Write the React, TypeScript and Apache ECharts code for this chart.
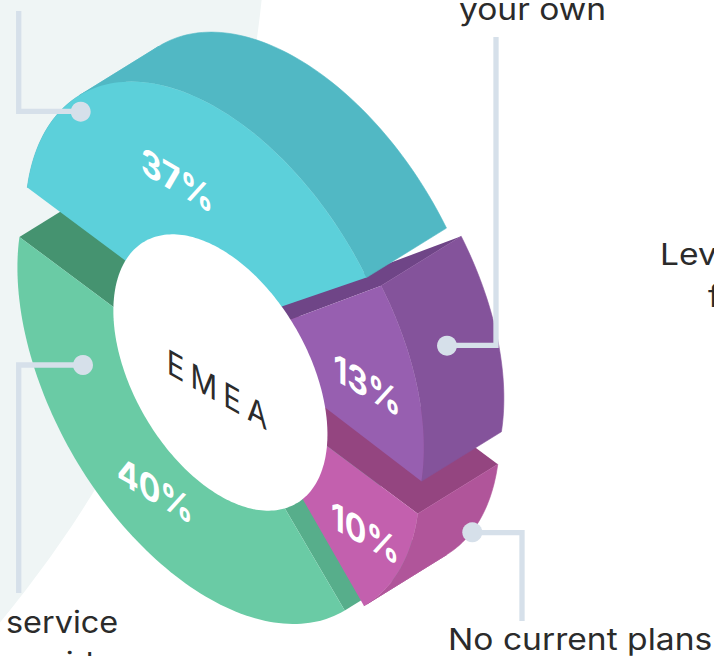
import React, { useEffect, useRef } from "react";
import * as echarts from "echarts";

const categories = ["your own", "No current plans", "service provider", "Other"];
const values = [13, 10, 40, 37];
const firstAngle = -38.5;
const drawOrder = [2, 1, 0, 3];

const FONT = "Inter";
const INK = "#2b2b2b";
const LEADER = "#d6e0ea";
const SQ = Math.sqrt(3) / 2;
const EXTRUDE: [number, number] = [80, -49.5];

const segCenter = [[236.8, 339.8], [231.4, 374.7], [208.2, 377.7], [216.7, 328.7]];
const segRadius = [216, 217.5, 220.3, 221];
const segPad = [[-1, 1], [0, 1], [0, 0], [0, 0]];
const faceColor = ["#975fb0", "#c360ae", "#6acba5", "#5cd0da"];
const sideColor = ["#84539b", "#b0559a", null, "#51b8c4"];
const startWall = ["#6f4587", "#944580", "#57ae8b", null];
const endWall = [null, null, "#459370", null];
const labelPos = [[367, 385], [365, 533], [155, 490], [177, 180]];

const pt = (cx: number, cy: number, r: number, deg: number): number[] => {
  const t = (deg * Math.PI) / 180;
  return [cx + SQ * r * Math.cos(t), cy + r * (0.5 * Math.cos(t) + Math.sin(t))];
};
const arc = (cx: number, cy: number, r: number, a: number, b: number): number[][] => {
  const n = Math.max(2, Math.ceil(Math.abs(b - a) / 1.5));
  const out: number[][] = [];
  for (let i = 0; i <= n; i++) out.push(pt(cx, cy, r, a + ((b - a) * i) / n));
  return out;
};
const shift = (p: number[]) => [p[0] + EXTRUDE[0], p[1] + EXTRUDE[1]];

const starts: number[] = [];
values.reduce((acc, v, i) => {
  starts[i] = acc;
  return acc + (v / 100) * 360;
}, firstAngle);

const renderItem = (_params: any, api: any) => {
  const value = api.value(0);
  const i = api.value(2);
  const start = api.value(1) + segPad[i][0];
  const end = api.value(1) + (value / 100) * 360 + segPad[i][1];
  const [cx, cy] = segCenter[i];
  const R = segRadius[i];
  const children: any[] = [];
  const poly = (points: number[][], fill: string, stroke = false) =>
    children.push({
      type: "polygon",
      shape: { points },
      style: stroke ? { fill, stroke: fill, lineWidth: 0.6 } : { fill },
    });
  const wall = (deg: number, fill: string) => {
    const a = pt(cx, cy, -40, deg);
    const b = pt(cx, cy, R, deg);
    poly([a, b, shift(b), shift(a)], fill);
  };
  if (startWall[i]) wall(start, startWall[i] as string);
  if (endWall[i]) wall(end, endWall[i] as string);
  if (sideColor[i]) {
    // split the outer band where the arc runs parallel to the extrusion
    const cuts = [start];
    [44, 224].forEach((d) => {
      if (d > start && d < end) cuts.push(d);
    });
    cuts.push(end);
    for (let k = 0; k < cuts.length - 1; k++) {
      const front = arc(cx, cy, R, cuts[k], cuts[k + 1]);
      poly(front.concat(front.map(shift).reverse()), sideColor[i] as string, true);
    }
  }
  poly([[cx, cy]].concat(arc(cx, cy, R, start, end)), faceColor[i]);
  const lp = labelPos[i];
  children.push({
    type: "text",
    x: lp[0],
    y: lp[1],
    scaleX: SQ,
    skewY: -Math.PI / 6,
    style: {
      text: `${value}%`,
      fill: "#ffffff",
      fontFamily: FONT,
      fontSize: 37,
      fontWeight: 700,
      align: "center",
      verticalAlign: "middle",
    },
  });
  return { type: "group", children };
};

const leader = (points: number[][], dot: number[]) => [
  {
    type: "polyline",
    z: 20,
    shape: { points },
    style: { stroke: LEADER, lineWidth: 5.3, fill: "none", lineJoin: "miter" },
  },
  { type: "circle", z: 21, shape: { cx: dot[0], cy: dot[1], r: 10 }, style: { fill: LEADER } },
];

const caption = (text: string, x: number, baseline: number, align = "left", stretch = 1.12) => ({
  type: "text",
  z: 30,
  x,
  y: baseline - 26,
  scaleX: stretch,
  style: { text, fill: INK, fontFamily: FONT, fontSize: 30, align, verticalAlign: "top" },
});

export default function App() {
  const ref = useRef<HTMLDivElement>(null);
  useEffect(() => {
    document.body.style.margin = "0";
    const chart = echarts.init(ref.current as HTMLDivElement, undefined, { renderer: "svg" });
    const holePts = arc(220.4, 372.5, 123.6, 0, 360);
    chart.setOption({
      animation: false,
      backgroundColor: "#ffffff",
      series: [
        {
          type: "custom",
          coordinateSystem: "none",
          silent: true,
          z: 5,
          renderItem,
          data: drawOrder.map((i) => ({ name: categories[i], value: [values[i], starts[i], i] })),
        },
      ],
      graphic: {
        elements: [
          { type: "circle", z: -1, shape: { cx: -900, cy: -122, r: 1168 }, style: { fill: "#eff5f5" } },
          { type: "polygon", z: 10, shape: { points: holePts }, style: { fill: "#ffffff" } },
          {
            type: "text",
            z: 11,
            x: 220,
            y: 391,
            scaleX: SQ,
            skewY: -Math.PI / 6,
            style: {
              text: "EMEA",
              fill: INK,
              fontFamily: FONT,
              fontSize: 34,
              align: "center",
              verticalAlign: "middle",
            },
          },
          ...leader([[18.7, 11], [18.7, 111.4], [81, 111.4]], [80.7, 111.7]),
          ...leader([[496, 37], [496, 345.4], [447, 345.4]], [447, 345.7]),
          ...leader([[522, 621], [522, 532.7], [472, 532.7]], [472.3, 532.3]),
          ...leader([[18.7, 593], [18.7, 365], [83, 365]], [83, 365]),
          caption("your own", 459, 20),
          caption("Lev", 660, 265),
          caption("f", 708, 307),
          caption("service", 6, 633, "left", 1.08),
          caption("provider", 61, 674, "center", 1.08),
          caption("No current plans", 448, 650),
        ],
      },
    });
    ref.current?.querySelectorAll("text").forEach((t) => {
      if (t.textContent === "EMEA") (t as SVGTextElement).style.letterSpacing = "7px";
    });
    return () => chart.dispose();
  }, []);
  return <div ref={ref} style={{ width: 714, height: 656, overflow: "hidden" }} />;
}
